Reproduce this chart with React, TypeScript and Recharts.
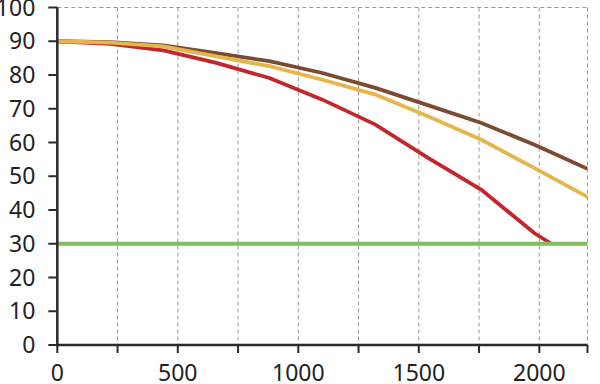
import { LineChart, Line, XAxis, YAxis, CartesianGrid } from 'recharts'

const distance = [0, 220, 440, 660, 880, 1100, 1320, 1540, 1760, 1980, 2200]
const brownValues = [90, 89.7, 88.8, 86.5, 84.1, 80.6, 76.2, 71.0, 65.8, 59.3, 52.2]
const yellowValues = [90, 89.6, 88.5, 85.5, 82.6, 78.6, 74.2, 67.7, 60.8, 52.4, 43.9]
const redDistance = [0, 220, 440, 660, 880, 1100, 1320, 1540, 1760, 1980, 2050]
const redValues = [90, 89.2, 87.3, 83.6, 79.1, 72.7, 65.3, 55.4, 46.0, 33.1, 30]
const limitDistance = [0, 2200]
const limitValues = [30, 30]

const xTicks = [0, 250, 500, 750, 1000, 1250, 1500, 1750, 2000, 2200]
const yTicks = [0, 10, 20, 30, 40, 50, 60, 70, 80, 90, 100]

const toPoints = (xs: number[], ys: number[]) => xs.map((x, i) => ({ x, y: ys[i] }))

const brownData = toPoints(distance, brownValues)
const yellowData = toPoints(distance, yellowValues)
const redData = toPoints(redDistance, redValues)
const limitData = toPoints(limitDistance, limitValues)

const AXIS = '#2b2b2b'
const tickStyle = { fontSize: 23, fill: '#222', fontFamily: '"Noto Sans", sans-serif' }

export default function App() {
  return (
    <div style={{ position: 'absolute', left: 0, top: 0, width: 600, height: 384, background: '#fff' }}>
      <LineChart width={600} height={384} margin={{ top: 7.5, right: 12.5, left: 0, bottom: 0 }}>
        <CartesianGrid stroke="#999" strokeDasharray="4 3" />
        <XAxis
          type="number"
          dataKey="x"
          domain={[0, 2200]}
          ticks={xTicks}
          interval={0}
          tickFormatter={(v: number) => (v % 500 === 0 ? String(v) : '')}
          tick={tickStyle}
          tickSize={8}
          tickMargin={12}
          height={39}
          axisLine={{ stroke: AXIS, strokeWidth: 2.5 }}
          tickLine={{ stroke: AXIS, strokeWidth: 2 }}
          allowDataOverflow
        />
        <YAxis
          yAxisId="left"
          type="number"
          domain={[0, 100]}
          ticks={yTicks}
          interval={0}
          tick={tickStyle}
          tickSize={9}
          tickMargin={13}
          width={57.3}
          axisLine={{ stroke: AXIS, strokeWidth: 2.5 }}
          tickLine={{ stroke: AXIS, strokeWidth: 2 }}
        />
        <YAxis
          yAxisId="right"
          orientation="right"
          type="number"
          domain={[0, 100]}
          tick={false}
          tickLine={false}
          width={0}
          axisLine={{ stroke: AXIS, strokeWidth: 2.5 }}
        />
        <Line yAxisId="left" data={redData} dataKey="y" stroke="#c1272d" strokeWidth={3.8} dot={false} isAnimationActive={false} />
        <Line yAxisId="left" data={brownData} dataKey="y" stroke="#7a4a31" strokeWidth={3.8} dot={false} isAnimationActive={false} />
        <Line yAxisId="left" data={yellowData} dataKey="y" stroke="#e5b64c" strokeWidth={3.8} dot={false} isAnimationActive={false} />
        <Line yAxisId="left" data={limitData} dataKey="y" stroke="#7dbf5b" strokeWidth={3.8} dot={false} isAnimationActive={false} />
      </LineChart>
    </div>
  )
}
